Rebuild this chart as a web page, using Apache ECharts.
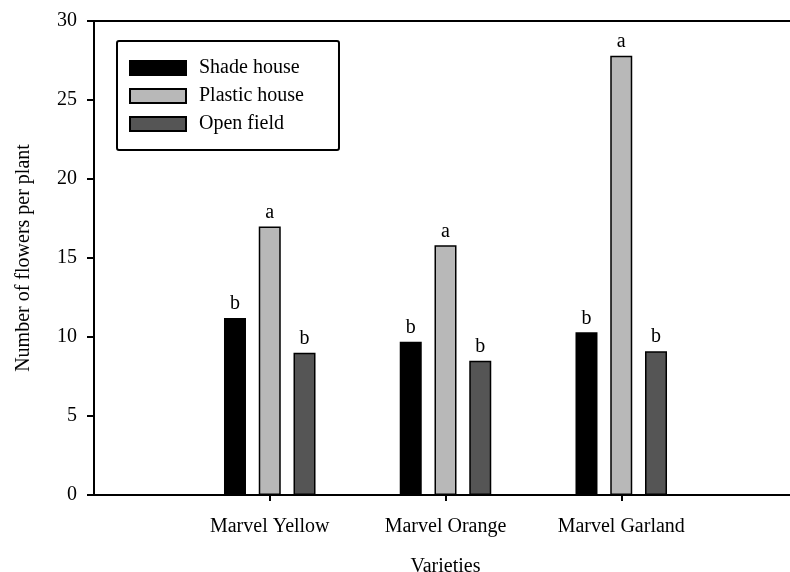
<!DOCTYPE html>
<html>
<head>
<meta charset="utf-8">
<script src="https://cdn.jsdelivr.net/npm/echarts@6/dist/echarts.min.js"></script>
<style>html,body{margin:0;padding:0;background:#fff;}#c{width:790px;height:572px;}</style>
</head>
<body>
<div id="c"></div>
<script>
const categories = ['Marvel Yellow', 'Marvel Orange', 'Marvel Garland'];
const seriesNames = ['Shade house', 'Plastic house', 'Open field'];
const shadeHouse = [11.2, 9.7, 10.3];
const plasticHouse = [17.0, 15.8, 27.8];
const openField = [9.0, 8.5, 9.1];
const shadeLetters = ['b', 'b', 'b'];
const plasticLetters = ['a', 'a', 'a'];
const openLetters = ['b', 'b', 'b'];
const yTicks = [0, 5, 10, 15, 20, 25, 30];

const FONT = '"Liberation Serif", "Times New Roman", serif';
const colors = ['#000000', '#b8b8b8', '#555555'];
const values = [shadeHouse, plasticHouse, openField];
const letters = [shadeLetters, plasticLetters, openLetters];
const axisCats = [''].concat(categories, ['']);
const pad = arr => [null].concat(arr, [null]);

const chart = echarts.init(document.getElementById('c'));
chart.setOption({
  animation: false,
  backgroundColor: '#fff',
  textStyle: { fontFamily: FONT },
  grid: { left: 94, right: -7, top: 21, bottom: 77, show: true, borderColor: '#000', borderWidth: 2, containLabel: false, outerBoundsMode: 'none' },
  legend: {
    orient: 'vertical', left: 117, top: 41,
    data: seriesNames,
    backgroundColor: '#fff',
    borderColor: '#000', borderWidth: 2, borderRadius: 2,
    padding: [17, 35, 16, 12],
    itemWidth: 56, itemHeight: 14, itemGap: 8,
    textStyle: { fontFamily: FONT, fontSize: 20, color: '#000', padding: [0, 0, 0, 8] },
    icon: 'rect'
  },
  xAxis: {
    type: 'category', data: axisCats, boundaryGap: false,
    name: 'Varieties', nameLocation: 'middle', nameGap: 62,
    nameTextStyle: { fontFamily: FONT, fontSize: 20, color: '#000' },
    axisLine: { lineStyle: { color: '#000', width: 2 } },
    axisTick: { show: true, length: 6, lineStyle: { color: '#000', width: 2 }, interval: (i) => i > 0 && i < axisCats.length - 1 },
    axisLabel: { fontFamily: FONT, fontSize: 20, color: '#000', margin: 22, interval: 0 },
    splitLine: { show: false }
  },
  yAxis: {
    type: 'value', min: yTicks[0], max: yTicks[yTicks.length - 1], interval: yTicks[1] - yTicks[0],
    name: 'Number of flowers per plant', nameLocation: 'middle', nameGap: 60, nameRotate: 90,
    nameTextStyle: { fontFamily: FONT, fontSize: 20, color: '#000' },
    axisLine: { show: true, lineStyle: { color: '#000', width: 2 } },
    axisTick: { show: true, length: 7, lineStyle: { color: '#000', width: 2 } },
    axisLabel: { fontFamily: FONT, fontSize: 20, color: '#000', margin: 17 },
    splitLine: { show: false }
  },
  series: seriesNames.map((name, k) => ({
    name: name, type: 'bar',
    data: pad(values[k]),
    barWidth: 22, barGap: '58%',
    itemStyle: { color: colors[k], borderColor: '#000', borderWidth: 1.5 },
    label: {
      show: true, position: 'top', distance: 4,
      fontFamily: FONT, fontSize: 20, color: '#000',
      formatter: p => letters[k][p.dataIndex - 1] || ''
    }
  }))
});
</script>
</body>
</html>
